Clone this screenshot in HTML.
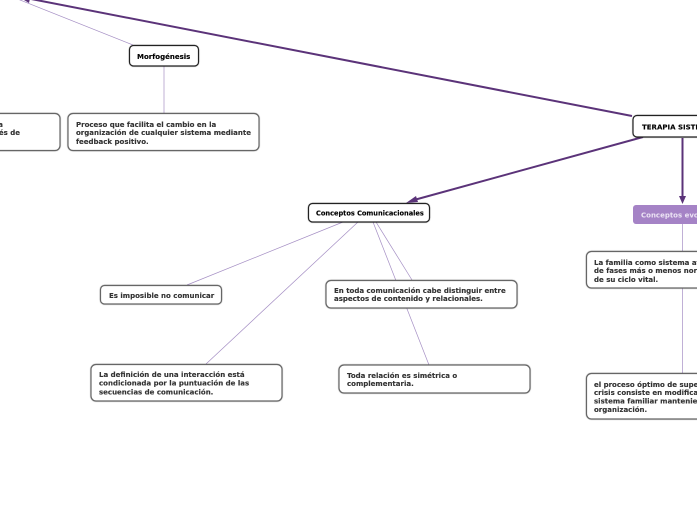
<!DOCTYPE html>
<html><head><meta charset="utf-8"><style>
html,body{margin:0;padding:0;background:#fff;width:697px;height:520px;overflow:hidden}
svg{display:block}
text{font-family:"DejaVu Sans","Liberation Sans",sans-serif;font-weight:bold;font-size:7px;fill:#333;stroke:#333;stroke-width:.12}
.k{fill:#000;stroke:#000}
.b{fill:#fff;stroke:#666;stroke-width:1.2;filter:drop-shadow(.4px .8px .4px rgba(0,0,0,.4))}
.d{fill:#fff;stroke:#222;stroke-width:1.2;filter:drop-shadow(.4px .8px .4px rgba(0,0,0,.4))}
.t{stroke:#a58fc4;stroke-width:.7;fill:none}
.m{stroke:#5b3379;stroke-width:2;fill:none}
</style></head><body>
<svg width="697" height="520" viewBox="0 0 697 520" xmlns="http://www.w3.org/2000/svg">
<rect width="697" height="520" fill="#fff"/>
<line class="t" x1="0" y1="-8" x2="133" y2="45"/>
<line class="t" x1="164" y1="66" x2="164" y2="113"/>
<line class="t" x1="343" y1="222" x2="187" y2="285"/>
<line class="t" x1="358" y1="222" x2="206" y2="364"/>
<line class="t" x1="373" y1="222" x2="429" y2="365"/>
<line class="t" x1="376" y1="222" x2="412" y2="280"/>
<line class="t" x1="682.500" y1="224" x2="682.500" y2="373"/>
<line class="m" x1="632" y1="116" x2="26" y2="-2"/>
<polygon points="19,-3 31,-6 29,3" fill="#5b3379"/>
<line class="m" x1="643" y1="137" x2="414" y2="200"/>
<polygon points="406,203 416,196 418,202" fill="#5b3379"/>
<line class="m" x1="682.500" y1="138" x2="682.500" y2="197"/>
<polygon points="682.500,204 679,196 686,196" fill="#5b3379"/>

<rect class="d" x="129.500" y="45.500" width="69" height="20.500" rx="4"/>
<text class="k" x="137" y="59">Morfogénesis</text>

<rect class="b" x="68" y="113.500" width="191" height="37" rx="5"/>
<text x="76" y="127">Proceso que facilita el cambio en la</text>
<text x="76" y="135">organización de cualquier sistema mediante</text>
<text x="76" y="144">feedback positivo.</text>

<rect class="b" x="-100" y="113.500" width="160" height="37" rx="5"/>
<text x="3" y="127" text-anchor="end">a</text>
<text x="20" y="135" text-anchor="end">és de</text>

<rect class="d" x="633" y="115.500" width="90" height="21.500" rx="4"/>
<text class="k" x="642" y="129.500">TERAPIA SISTÉMICA</text>

<rect x="633" y="205" width="90" height="19" rx="3" fill="#a583c6"/>
<text x="641" y="217.500" style="fill:#ece4f4;stroke:none">Conceptos evolutivos</text>

<rect class="d" x="308.500" y="203.500" width="121" height="18.500" rx="4"/>
<text class="k" x="316" y="215.500" style="font-size:6.6px">Conceptos Comunicacionales</text>

<rect class="b" x="100.500" y="285.500" width="121" height="18.500" rx="4"/>
<text x="109" y="298">Es imposible no comunicar</text>

<rect class="b" x="326" y="280.500" width="191" height="27.500" rx="5"/>
<text x="334" y="293">En toda comunicación cabe distinguir entre</text>
<text x="334" y="301">aspectos de contenido y relacionales.</text>

<rect class="b" x="339" y="365" width="191" height="28" rx="5"/>
<text x="347" y="378">Toda relación es simétrica o</text>
<text x="347" y="386">complementaria.</text>

<rect class="b" x="91" y="364.500" width="191" height="36.500" rx="5"/>
<text x="99" y="377">La definición de una interacción está</text>
<text x="99" y="385.500">condicionada por la puntuación de las</text>
<text x="99" y="394.500">secuencias de comunicación.</text>

<rect class="b" x="586.500" y="251.500" width="170" height="36.500" rx="5"/>
<text x="594" y="265">La familia como sistema atraviesa una serie</text>
<text x="594" y="273">de fases más o menos normativas a lo largo</text>
<text x="594" y="282">de su ciclo vital.</text>

<rect class="b" x="586.500" y="373.500" width="170" height="45.500" rx="5"/>
<text x="594" y="387">el proceso óptimo de superación de</text>
<text x="594" y="395">crisis consiste en modificar el</text>
<text x="594" y="403.500">sistema familiar manteniendo su</text>
<text x="594" y="412">organización.</text>
</svg>
</body></html>
